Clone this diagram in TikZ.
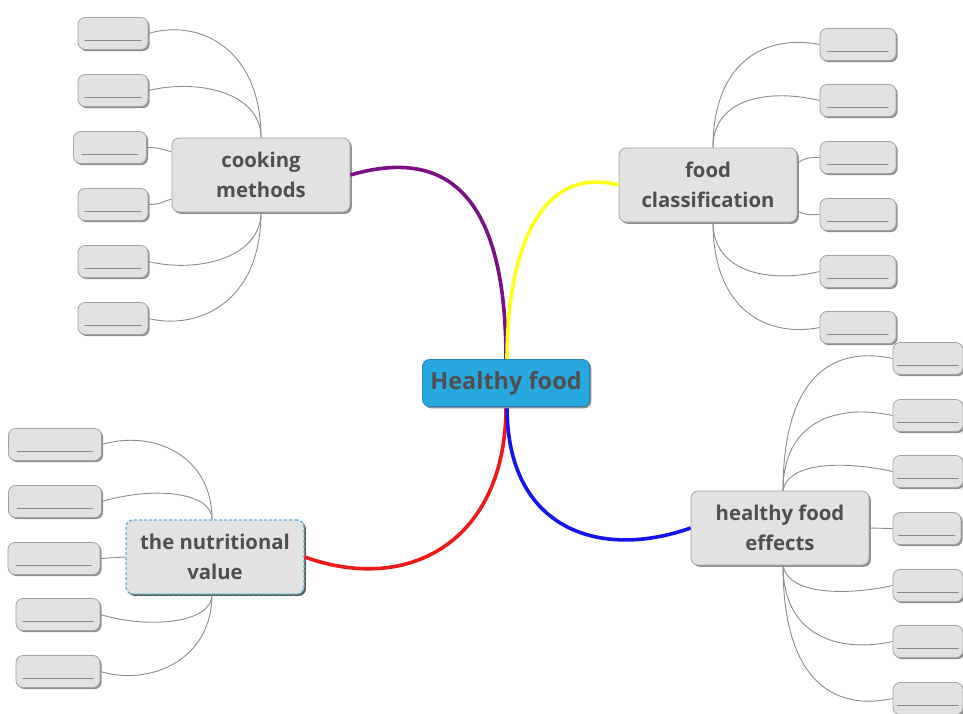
\documentclass[tikz,border=0pt]{standalone}
\usepackage{fontspec}
\setmainfont{Open Sans}
\usetikzlibrary{shadows}
\definecolor{boxfill}{HTML}{E2E2E2}
\definecolor{boxline}{HTML}{A3A3A3}
\definecolor{shadowc}{HTML}{8E8E8E}
\definecolor{txt}{HTML}{4F4F4F}
\definecolor{linkc}{HTML}{8C8C8C}
\definecolor{blankc}{HTML}{6E6E6E}
\definecolor{hfblue}{HTML}{27A8DF}
\definecolor{hfline}{HTML}{1B86B8}
\definecolor{dashblue}{HTML}{5FB4D4}
\definecolor{purp}{HTML}{7B0F86}
\definecolor{yel}{HTML}{FFFF1A}
\definecolor{redc}{HTML}{F01818}
\definecolor{bluec}{HTML}{1414F0}
\newcommand\blankten{\_\_\_\_\_\_\_\_\_\_}
\tikzset{
  topic/.style={draw=boxline, fill=boxfill, rounded corners=7pt, line width=0.8pt,
    text=txt, font=\bfseries\fontsize{20.3}{30}\selectfont, align=center,
    minimum width=178pt, minimum height=74pt, inner sep=0pt,
    drop shadow={shadow xshift=1.8pt, shadow yshift=-1.8pt, fill=shadowc, opacity=1}},
  leaf/.style={draw=boxline, fill=boxfill, rounded corners=7pt, line width=0.8pt,
    text=blankc, font=\bfseries\fontsize{11.5}{14}\selectfont, minimum height=32pt, inner sep=0pt,
    text depth=0pt, text height=0pt, yshift=-0.5pt,
    drop shadow={shadow xshift=1.6pt, shadow yshift=-1.6pt, fill=shadowc, opacity=1}},
  link/.style={draw=linkc, line width=0.9pt},
  branch/.style={line width=3.6pt},
}
\newcommand\lowblank[1]{\raisebox{-5.5pt}{#1}}
\begin{document}
\begin{tikzpicture}[x=1pt, y=-1pt]
\useasboundingbox (0,0) rectangle (963,713);
\clip (0,0) rectangle (963,713);
\fill[white] (0,0) rectangle (963,713);

% main topics
\node[topic] (cm) at (261,175) {cooking\\methods};
\node[topic] (fc) at (708,185) {food\\classification};
\node[topic, draw=dashblue, dash pattern=on 3pt off 2pt, line width=1.4pt,
  drop shadow={shadow xshift=1.8pt, shadow yshift=-1.8pt, fill=black!65, opacity=1}] (nv) at (215,557) {the nutritional\\value};
\node[topic] (he) at (780,528) {healthy food\\effects};

% branches
\draw[branch, purp] (cm.east) .. controls (470,140) and (506,230) .. (506,360);
\draw[branch, yel] (fc.west) .. controls (540,165) and (507,250) .. (507,360);
\draw[branch, redc] (nv.east) .. controls (410,595) and (506,540) .. (506,407);
\draw[branch, bluec] (he.west) .. controls (600,560) and (507,530) .. (507,407);

\node[draw=hfline, fill=hfblue, rounded corners=7pt, line width=0.8pt, text=txt,
  font=\bfseries\fontsize{23.5}{26}\selectfont, minimum width=167pt, minimum height=47pt, inner sep=0pt,
  drop shadow={shadow xshift=1.8pt, shadow yshift=-1.8pt, fill=shadowc, opacity=1}] (hf) at (506,383) {Healthy food};

% cooking methods leaves
\node[leaf, minimum width=70pt] (c1) at (113,33) {\lowblank{\blankten\_\_}};
\node[leaf, minimum width=70pt] (c2) at (113,90) {\lowblank{\blankten\_\_}};
\node[leaf, minimum width=73pt] (c3) at (110,147) {\lowblank{\blankten\_\_}};
\node[leaf, minimum width=70pt] (c4) at (113,204) {\lowblank{\blankten\_\_}};
\node[leaf, minimum width=70pt] (c5) at (113,261) {\lowblank{\blankten\_\_}};
\node[leaf, minimum width=70pt] (c6) at (113,318) {\lowblank{\blankten\_\_}};
\draw[link] (c1.east) .. controls +(50,-15) and +(0,-90) .. (cm.north);
\draw[link] (c2.east) .. controls +(50,-12) and +(0,-45) .. (cm.north);
\draw[link] (c3.east) .. controls +(12,0) and +(-10,-3) .. ([yshift=23pt]cm.west);
\draw[link] (c4.east) .. controls +(12,0) and +(-10,3) .. ([yshift=-24pt]cm.west);
\draw[link] (c5.east) .. controls +(50,12) and +(0,45) .. (cm.south);
\draw[link] (c6.east) .. controls +(50,12) and +(0,90) .. (cm.south);

% food classification leaves
\node[leaf, minimum width=76pt] (f1) at (858,44) {\lowblank{\blankten\_\_\_}};
\node[leaf, minimum width=76pt] (f2) at (858,100) {\lowblank{\blankten\_\_\_}};
\node[leaf, minimum width=76pt] (f3) at (858,157) {\lowblank{\blankten\_\_\_}};
\node[leaf, minimum width=76pt] (f4) at (858,214) {\lowblank{\blankten\_\_\_}};
\node[leaf, minimum width=76pt] (f5) at (858,271) {\lowblank{\blankten\_\_\_}};
\node[leaf, minimum width=76pt] (f6) at (858,327) {\lowblank{\blankten\_\_\_}};
\draw[link] ([xshift=5pt]fc.north) .. controls +(0,-90) and +(-50,-10) .. (f1.west);
\draw[link] ([xshift=5pt]fc.north) .. controls +(0,-50) and +(-50,-12) .. (f2.west);
\draw[link] ([yshift=22pt]fc.east) .. controls +(10,-6) and +(-10,0) .. (f3.west);
\draw[link] ([yshift=-26pt]fc.east) .. controls +(10,5) and +(-10,0) .. (f4.west);
\draw[link] ([xshift=5pt]fc.south) .. controls +(0,50) and +(-50,12) .. (f5.west);
\draw[link] ([xshift=5pt]fc.south) .. controls +(0,90) and +(-50,10) .. (f6.west);

% nutritional value leaves
\node[leaf, minimum width=93pt] (n1) at (55,444) {\lowblank{\blankten\_\_\_\_\_\_}};
\node[leaf, minimum width=93pt] (n2) at (55,501) {\lowblank{\blankten\_\_\_\_\_\_}};
\node[leaf, minimum width=92pt] (n3) at (54,558) {\lowblank{\blankten\_\_\_\_\_\_}};
\node[leaf, minimum width=84pt] (n4) at (58,614) {\lowblank{\blankten\_\_\_\_\_}};
\node[leaf, minimum width=84pt] (n5) at (58,671) {\lowblank{\blankten\_\_\_\_\_}};
\draw[link] (n1.east) .. controls +(50,-15) and +(0,-65) .. ([xshift=-3pt]nv.north);
\draw[link] (n2.east) .. controls +(50,-15) and +(0,-28) .. ([xshift=-3pt]nv.north);
\draw[link] (n3.east) -- (nv.west);
\draw[link] (n4.east) .. controls +(50,15) and +(0,28) .. ([xshift=-3pt]nv.south);
\draw[link] (n5.east) .. controls +(50,15) and +(0,65) .. ([xshift=-3pt]nv.south);

% healthy food effects leaves
\node[leaf, minimum width=70pt] (e1) at (928,358) {\lowblank{\blankten\_\_\_}};
\node[leaf, minimum width=70pt] (e2) at (928,415) {\lowblank{\blankten\_\_\_}};
\node[leaf, minimum width=70pt] (e3) at (928,471) {\lowblank{\blankten\_\_\_}};
\node[leaf, minimum width=68pt] (e4) at (927,528) {\lowblank{\blankten\_\_}};
\node[leaf, minimum width=70pt] (e5) at (928,585) {\lowblank{\blankten\_\_\_}};
\node[leaf, minimum width=70pt] (e6) at (928,641) {\lowblank{\blankten\_\_\_}};
\node[leaf, minimum width=70pt] (e7) at (928,698) {\lowblank{\blankten\_\_\_}};
\draw[link] ([xshift=3pt]he.north) .. controls +(0,-120) and +(-55,-12) .. (e1.west);
\draw[link] ([xshift=3pt]he.north) .. controls +(0,-70) and +(-55,-12) .. (e2.west);
\draw[link] ([xshift=3pt]he.north) .. controls +(5,-30) and +(-45,-10) .. (e3.west);
\draw[link] (he.east) -- (e4.west);
\draw[link] ([xshift=3pt]he.south) .. controls +(5,30) and +(-45,10) .. (e5.west);
\draw[link] ([xshift=3pt]he.south) .. controls +(0,70) and +(-55,12) .. (e6.west);
\draw[link] ([xshift=3pt]he.south) .. controls +(0,120) and +(-55,12) .. (e7.west);
\end{tikzpicture}
\end{document}
